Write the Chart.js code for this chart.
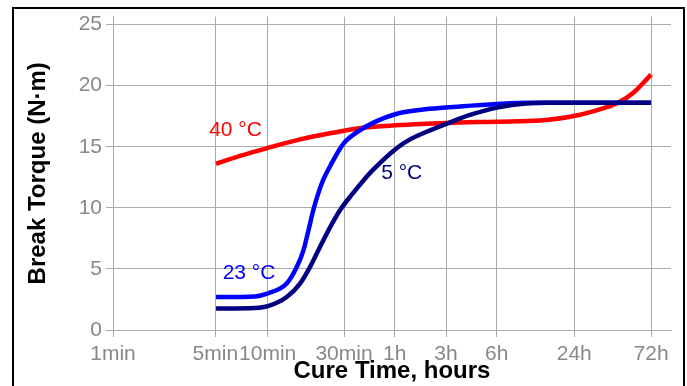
<!DOCTYPE html>
<html>
<head>
<meta charset="utf-8">
<script src="https://cdn.jsdelivr.net/npm/chart.js@4.4.1/dist/chart.umd.min.js"></script>
<style>
  html, body { margin: 0; padding: 0; background: #fff; }
</style>
</head>
<body>
<canvas id="chart-torque" width="687" height="386"></canvas>
<script>
const torqueCanvas = document.querySelector("#chart-torque");

// x axis is a stretched log-time axis (about log10 of minutes)
const tickLabels = ["1min", "5min", "10min", "30min", "1h", "3h", "6h", "24h", "72h"];
const tickValues = [0, 0.682, 1.031, 1.54, 1.878, 2.22, 2.558, 3.075, 3.587];
const yTicks = [0, 5, 10, 15, 20, 25];

const time40 = [0.687, 0.847, 1.033, 1.247, 1.447, 1.667, 1.88, 2.22, 2.56, 2.847, 3.047, 3.2, 3.367, 3.467, 3.587];
const torque40 = [13.6, 14.25, 14.9, 15.6, 16.1, 16.55, 16.75, 16.95, 17.05, 17.15, 17.45, 17.9, 18.6, 19.4, 20.9];

const time23 = [0.687, 0.947, 1.033, 1.158, 1.225, 1.269, 1.302, 1.335, 1.369, 1.402, 1.447, 1.533, 1.627, 1.733, 1.893, 2.113, 2.313, 2.56, 2.78, 3.587];
const torque23 = [2.7, 2.75, 3.0, 3.8, 5.15, 6.5, 8.1, 9.8, 11.2, 12.3, 13.4, 15.2, 16.2, 16.95, 17.7, 18.1, 18.3, 18.5, 18.6, 18.6];

const time5 = [0.687, 0.947, 1.033, 1.158, 1.247, 1.313, 1.38, 1.447, 1.513, 1.6, 1.667, 1.733, 1.893, 1.98, 2.067, 2.247, 2.38, 2.56, 2.78, 2.9, 3.587];
const torque5 = [1.75, 1.8, 1.95, 2.7, 3.8, 5.15, 6.8, 8.4, 9.8, 11.2, 12.2, 13.1, 14.9, 15.6, 16.1, 17.0, 17.6, 18.2, 18.55, 18.6, 18.6];

// curve labels: text, colour, x, y (axis units)
const curveLabels = [
  { text: "40 °C", color: "#ff0000", x: 0.817, y: 16.33 },
  { text: "23 °C", color: "#0000ff", x: 0.907, y: 4.68 },
  { text: "5 °C", color: "#000080", x: 1.925, y: 12.87 },
];

const toPoints = (xs, ys) => xs.map((x, i) => ({ x: x, y: ys[i] }));

const fontFamily = "'Liberation Sans', Arial, sans-serif";

const frameAndLabels = {
  id: "frameAndLabels",
  afterDraw(chart) {
    const ctx = chart.ctx;
    const xScale = chart.scales.x;
    const yScale = chart.scales.y;
    ctx.save();
    ctx.font = "21px " + fontFamily;
    ctx.textAlign = "center";
    ctx.textBaseline = "middle";
    curveLabels.forEach((lbl) => {
      ctx.fillStyle = lbl.color;
      ctx.fillText(lbl.text, xScale.getPixelForValue(lbl.x), yScale.getPixelForValue(lbl.y));
    });
    // outer frame
    ctx.strokeStyle = "#000";
    ctx.lineWidth = 2;
    ctx.strokeRect(13, 8, 671, 400);
    ctx.restore();
  },
};

const lineStyle = {
  pointRadius: 0,
  borderWidth: 4.5,
  cubicInterpolationMode: "monotone",
  fill: false,
};

const chartTorque = new Chart(torqueCanvas, {
  type: "line",
  data: {
    datasets: [
      { label: "40 °C", data: toPoints(time40, torque40), borderColor: "#ff0000", order: 2, ...lineStyle },
      { label: "23 °C", data: toPoints(time23, torque23), borderColor: "#0000ff", order: 1, ...lineStyle },
      { label: "5 °C", data: toPoints(time5, torque5), borderColor: "#000080", order: 0, ...lineStyle },
    ],
  },
  options: {
    responsive: false,
    animation: false,
    devicePixelRatio: 1,
    layout: { padding: { left: 0, right: 16, top: 15, bottom: 0 } },
    plugins: {
      legend: { display: false },
      tooltip: { enabled: false },
    },
    scales: {
      x: {
        type: "linear",
        min: 0,
        max: 3.72,
        afterBuildTicks: (scale) => {
          scale.ticks = tickValues.map((v) => ({ value: v }));
        },
        afterFit: (scale) => {
          scale.height = 56;
        },
        ticks: {
          autoSkip: false,
          maxRotation: 0,
          padding: 5,
          color: "#888",
          font: { family: fontFamily, size: 21 },
          callback: (value, index) => tickLabels[index],
        },
        grid: { color: "#aaa", tickLength: 7 },
        border: { color: "#aaa" },
        title: {
          display: true,
          text: "Cure Time, hours",
          color: "#000",
          padding: { top: 0, bottom: 0 },
          font: { family: fontFamily, size: 24, weight: "bold" },
        },
      },
      y: {
        min: 0,
        max: 25.65,
        afterBuildTicks: (scale) => {
          scale.ticks = yTicks.map((v) => ({ value: v }));
        },
        afterFit: (scale) => {
          scale.width = 113;
        },
        ticks: {
          padding: 4,
          color: "#888",
          font: { family: fontFamily, size: 21 },
        },
        grid: { color: "#aaa", tickLength: 7 },
        border: { color: "#aaa" },
        title: {
          display: true,
          text: "Break Torque (N·m)",
          color: "#000",
          padding: { top: 24, bottom: 0 },
          font: { family: fontFamily, size: 24, weight: "bold" },
        },
      },
    },
  },
  plugins: [frameAndLabels],
});
</script>
</body>
</html>
